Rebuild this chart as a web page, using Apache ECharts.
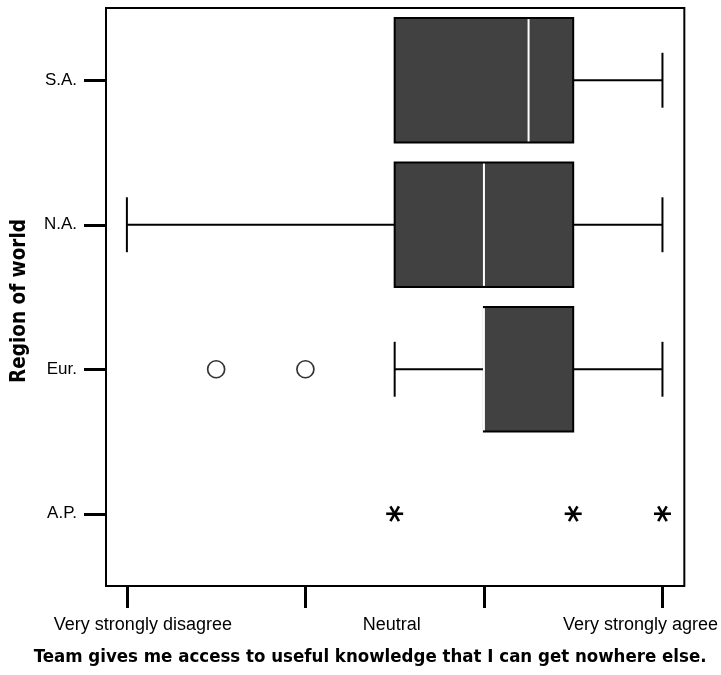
<!DOCTYPE html>
<html>
<head>
<meta charset="utf-8">
<script src="https://cdn.jsdelivr.net/npm/echarts@6/dist/echarts.min.js"></script>
<style>html,body{margin:0;padding:0;background:#fff;}#c{width:721px;height:675px;}</style>
</head>
<body>
<div id="c"></div>
<script>
// ---- data ----
const categories = ['S.A.', 'N.A.', 'Eur.', 'A.P.'];
const boxMin    = [4,   1, 4, null];
const boxQ1     = [4,   4, 5, null];
const boxMedian = [5.5, 5, 5, null];
const boxQ3     = [6,   6, 6, null];
const boxMax    = [7,   7, 7, null];
const outlierRegion = ['Eur.', 'Eur.'];
const outlierValue  = [2, 3];
const extremeRegion = ['A.P.', 'A.P.', 'A.P.'];
const extremeValue  = [4, 6, 7];
const xTickValues  = [1, 3, 5, 7];
const xLabelValues = [1, 4, 7];
const xLabelText   = ['Very strongly disagree', 'Neutral', 'Very strongly agree'];
const xTitle = 'Team gives me access to useful knowledge that I can get nowhere else.';
const yTitle = 'Region of world';

// ---- build ----
const boxData = [];
categories.forEach((c, i) => {
  if (boxMin[i] !== null) boxData.push([i, boxMin[i], boxQ1[i], boxMedian[i], boxQ3[i], boxMax[i]]);
});
const outlierData = outlierRegion.map((r, i) => [outlierValue[i], categories.indexOf(r)]);
const extremeData = extremeRegion.map((r, i) => [extremeValue[i], categories.indexOf(r)]);

function renderBox(params, api) {
  const ci = api.value(0);
  const vMin = api.value(1), q1 = api.value(2), med = api.value(3), q3 = api.value(4), vMax = api.value(5);
  const band = api.size([0, 1])[1];
  const hb = band * 0.43, hc = band * 0.19;
  const pMin = api.coord([vMin, ci]), pQ1 = api.coord([q1, ci]), pMed = api.coord([med, ci]);
  const pQ3 = api.coord([q3, ci]), pMax = api.coord([vMax, ci]);
  const y = pQ1[1];
  const line = { stroke: '#000', lineWidth: 2 };
  const children = [];
  if (pQ1[0] > pMin[0] + 0.5) {
    children.push({ type: 'line', shape: { x1: pMin[0], y1: y, x2: pQ1[0], y2: y }, style: line });
    children.push({ type: 'line', shape: { x1: pMin[0], y1: y - hc, x2: pMin[0], y2: y + hc }, style: line });
  }
  if (pMax[0] > pQ3[0] + 0.5) {
    children.push({ type: 'line', shape: { x1: pQ3[0], y1: y, x2: pMax[0], y2: y }, style: line });
    children.push({ type: 'line', shape: { x1: pMax[0], y1: y - hc, x2: pMax[0], y2: y + hc }, style: line });
  }
  children.push({ type: 'rect', shape: { x: pQ1[0], y: y - hb, width: pQ3[0] - pQ1[0], height: 2 * hb },
    style: { fill: '#414141', stroke: '#000', lineWidth: 2 } });
  children.push({ type: 'line', shape: { x1: pMed[0], y1: y - hb + 1, x2: pMed[0], y2: y + hb - 1 },
    style: { stroke: '#fff', lineWidth: 2 } });
  return { type: 'group', children };
}

function renderStar(params, api) {
  const p = api.coord([api.value(0), api.value(1)]);
  const L = 8.5;
  const children = [0, 60, 120].map(a => {
    const r = a * Math.PI / 180;
    return { type: 'line', shape: { x1: p[0] - L * Math.cos(r), y1: p[1] - L * Math.sin(r), x2: p[0] + L * Math.cos(r), y2: p[1] + L * Math.sin(r) },
      style: { stroke: '#000', lineWidth: 2.6 } };
  });
  return { type: 'group', children };
}

const chart = echarts.init(document.getElementById('c'), null, { renderer: 'canvas' });
chart.setOption({
  animation: false,
  backgroundColor: '#fff',
  grid: { left: 106, right: 34, top: 8, bottom: 89, show: true, borderColor: '#000', borderWidth: 2, backgroundColor: 'transparent' },
  xAxis: {
    type: 'value', min: 0.766, max: 7.245,
    axisLine: { show: false },
    splitLine: { show: false },
    axisTick: { show: true, length: 22, customValues: xTickValues, lineStyle: { color: '#000', width: 3 } },
    axisLabel: {
      customValues: xLabelValues, margin: 30, color: '#000', fontSize: 18, fontFamily: 'Liberation Sans, Arial, sans-serif',
      formatter: v => {
        const i = xLabelValues.indexOf(v);
        const k = i === 0 ? 'a' : (i === 2 ? 'c' : 'b');
        return '{' + k + '|' + xLabelText[i] + '}';
      },
      rich: {
        a: { fontSize: 18, color: '#000', padding: [0, 0, 0, 32], fontFamily: 'Liberation Sans, Arial, sans-serif' },
        b: { fontSize: 18, color: '#000', padding: [0, 6, 0, 0], fontFamily: 'Liberation Sans, Arial, sans-serif' },
        c: { fontSize: 18, color: '#000', padding: [0, 44, 0, 0], fontFamily: 'Liberation Sans, Arial, sans-serif' }
      }
    },
    name: xTitle, nameLocation: 'middle', nameGap: 62,
    nameTextStyle: { color: '#000', fontSize: 18.5, fontWeight: 'bold', fontFamily: 'Liberation Sans Narrow, DejaVu Sans Condensed, Arial Narrow, sans-serif', padding: [0, 50, 0, 0] }
  },
  yAxis: {
    type: 'category', data: categories, inverse: true,
    axisLine: { show: false },
    axisTick: { show: true, alignWithLabel: true, length: 22, lineStyle: { color: '#000', width: 3 } },
    axisLabel: { margin: 29, color: '#000', fontSize: 17, fontFamily: 'Liberation Sans, Arial, sans-serif' },
    name: yTitle, nameLocation: 'middle', nameGap: 76, nameRotate: 90,
    nameTextStyle: { color: '#000', fontSize: 20.5, fontWeight: 'bold', fontFamily: 'Liberation Sans Narrow, DejaVu Sans Condensed, Arial Narrow, sans-serif', padding: [0, 8, 0, 0] }
  },
  series: [
    { type: 'custom', renderItem: renderBox, data: boxData, encode: { x: [1, 2, 3, 4, 5], y: 0 }, z: 2 },
    { type: 'scatter', data: outlierData, symbol: 'circle', symbolSize: 17,
      itemStyle: { color: '#fff', borderColor: '#000', borderWidth: 1.7 }, z: 3 },
    { type: 'custom', renderItem: renderStar, data: extremeData, encode: { x: 0, y: 1 }, z: 3 }
  ]
});
</script>
</body>
</html>
